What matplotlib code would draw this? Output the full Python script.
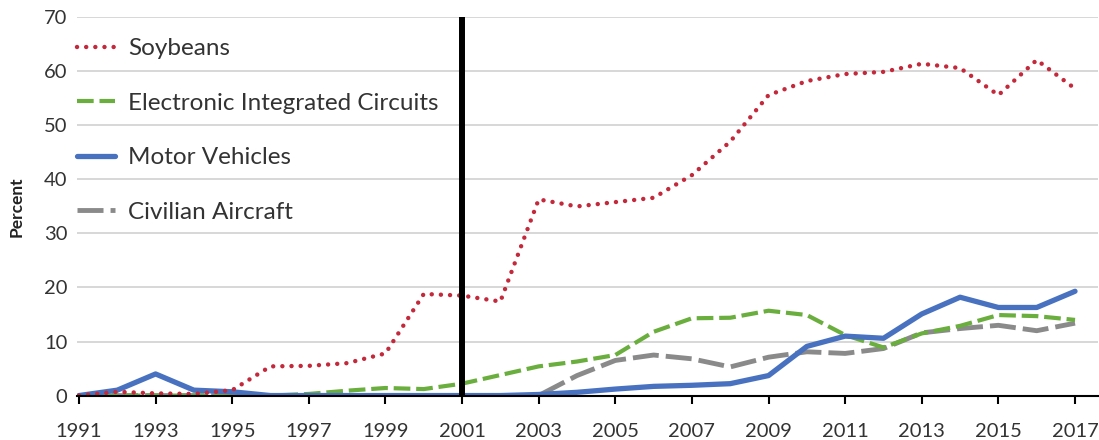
import matplotlib.pyplot as plt

plt.rcParams['font.family'] = ['Lato', 'DejaVu Sans']

years = list(range(1991, 2018))

soybeans = [0, 0.7, 0.4, 0.3, 1.0, 5.4, 5.5, 6.0, 7.8, 18.8, 18.5, 17.4, 36.3,
            35.0, 35.8, 36.6, 40.8, 47.0, 55.6, 58.2, 59.5, 59.9, 61.4, 60.6,
            55.6, 62.1, 56.8]
circuits = [0, 0, 0, 0, 0, 0, 0.3, 0.9, 1.4, 1.2, 2.2, 3.8, 5.4,
            6.3, 7.5, 11.8, 14.3, 14.4, 15.7, 14.9, 11.2, 8.9, 11.5, 12.9,
            14.9, 14.7, 14.0]
vehicles = [0, 1.0, 4.0, 1.0, 0.7, 0, 0, 0, 0, 0, 0, 0, 0.2,
            0.6, 1.2, 1.7, 1.9, 2.2, 3.7, 9.1, 11.0, 10.6, 15.1, 18.2,
            16.3, 16.3, 19.3]
aircraft = [0, 0, 0, 0, 0, 0, 0, 0, 0, 0, 0, 0, 0,
            3.7, 6.5, 7.5, 6.8, 5.3, 7.1, 8.1, 7.8, 8.7, 11.6, 12.4,
            13.0, 12.0, 13.4]

marker_year = 2001
yticks = [0, 10, 20, 30, 40, 50, 60, 70]
xticks = list(range(1991, 2018, 2))

fig = plt.figure(figsize=(10.99, 4.4), dpi=100)
ax = fig.add_axes([0.0701, 0.101, 0.929, 0.8597])

ax.plot(years, circuits, color='#6aae3e', lw=3.0, linestyle=(0, (4.0, 1.4)),
        label='Electronic Integrated Circuits', zorder=3)
ax.plot(years, vehicles, color='#4872c0', lw=3.8, solid_capstyle='round',
        label='Motor Vehicles', zorder=3)
ax.plot(years, aircraft, color='#8a8a8a', lw=3.5, linestyle=(0, (5.35, 1.45)),
        label='Civilian Aircraft', zorder=2)
ax.plot(years, soybeans, color='#c3283b', lw=3.2, linestyle=(0, (0.01, 2.05)),
        dash_capstyle='round', label='Soybeans', zorder=4)

ax.axvline(marker_year, color='black', lw=4.3, zorder=5)

ax.set_xlim(1990.95, 2017.6)
ax.set_ylim(0, 70)
ax.set_yticks(yticks)
ax.set_xticks(xticks)
ax.grid(axis='y', color='#d4d4d4', lw=1.3, zorder=0)
ax.set_axisbelow(True)

for s in ['top', 'right', 'left']:
    ax.spines[s].set_visible(False)
ax.spines['bottom'].set_color('black')
ax.spines['bottom'].set_linewidth(1.5)
ax.spines['bottom'].set_zorder(6)

ax.tick_params(axis='y', length=0, pad=7, labelsize=14.5, labelcolor='#333333')
ax.tick_params(axis='x', length=6, width=1.5, direction='out', pad=14,
               labelsize=14.5, labelcolor='#333333')
fig.text(16.5 / 1099, 0.5 * (0.101 + 0.9607), 'Percent', rotation=90,
         ha='center', va='center', fontsize=12.5, fontweight='bold',
         color='#222222')

handles, labels = ax.get_legend_handles_labels()
order = [3, 0, 1, 2]
leg = ax.legend([handles[i] for i in order], [labels[i] for i in order],
                loc='upper left', bbox_to_anchor=(0.0, 1 - 21 / 378),
                frameon=False, fontsize=17.5, handlelength=1.56,
                handletextpad=0.55, labelspacing=1.38, borderpad=0,
                borderaxespad=0)
for t in leg.get_texts():
    t.set_color('#333333')

fig.savefig('out.png', dpi=100, facecolor='white')
